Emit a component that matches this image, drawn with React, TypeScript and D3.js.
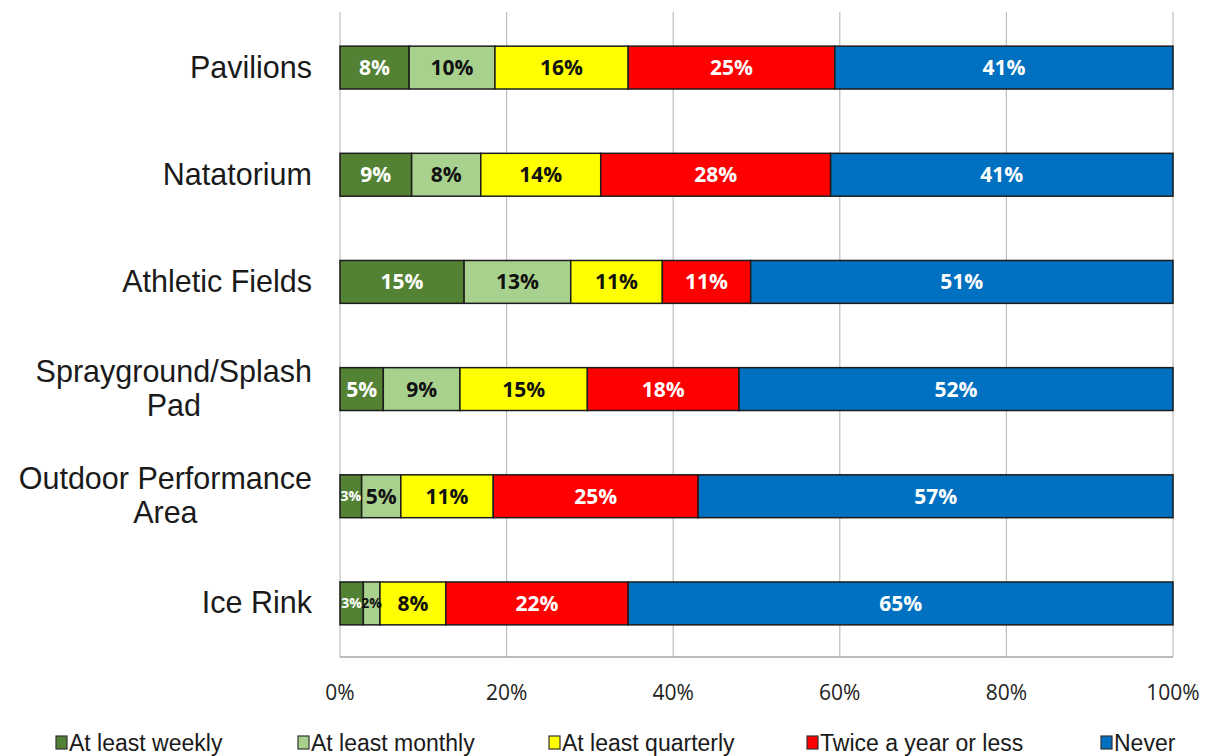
import React, { useEffect, useRef } from 'react';
import * as d3 from 'd3';

// categories, top to bottom
const categories = ['Pavilions', 'Natatorium', 'Athletic Fields', 'Sprayground/Splash Pad', 'Outdoor Performance Area', 'Ice Rink'];
const categoryLines = [['Pavilions'], ['Natatorium'], ['Athletic Fields'], ['Sprayground/Splash', 'Pad'], ['Outdoor Performance', 'Area'], ['Ice Rink']];

const seriesNames = ['At least weekly', 'At least monthly', 'At least quarterly', 'Twice a year or less', 'Never'];
const weekly = [8.3, 8.6, 14.9, 5.2, 2.6, 2.8];
const monthly = [10.3, 8.3, 12.8, 9.2, 4.7, 2.0];
const quarterly = [16.0, 14.4, 11.0, 15.3, 11.1, 7.9];
const twice = [24.8, 27.6, 10.6, 18.2, 24.6, 21.9];
const never = [40.6, 41.1, 50.7, 52.1, 57.0, 65.4];

const xTicks = [0, 20, 40, 60, 80, 100];

const colors = ['#548235', '#a9d18e', '#ffff00', '#ff0000', '#0070c0'];
const labelColors = ['#ffffff', '#111111', '#111111', '#ffffff', '#ffffff'];

export default function App() {
    const svgRef = useRef<SVGSVGElement>(null);

    useEffect(() => {
        if (!svgRef.current) return;
        const svg = d3.select(svgRef.current);
        svg.selectAll('*').remove();

        const plot = { left: 340, right: 1173, top: 14, bottom: 657 };

        const rows = categories.map((c, i) => ({
            category: c,
            s0: weekly[i], s1: monthly[i], s2: quarterly[i], s3: twice[i], s4: never[i]
        }));
        const keys = ['s0', 's1', 's2', 's3', 's4'];
        const stacked = d3.stack<any>().keys(keys)(rows);

        const x = d3.scaleLinear().domain([0, 100]).range([plot.left, plot.right]);
        const y = d3.scaleBand<string>()
            .domain(categories)
            .range([plot.top, plot.bottom])
            .paddingInner(0.6)
            .paddingOuter(0.3);

        // gridlines
        svg.append('g')
            .selectAll('line')
            .data(xTicks)
            .join('line')
            .attr('x1', d => x(d)).attr('x2', d => x(d))
            .attr('y1', plot.top - 2).attr('y2', plot.bottom)
            .attr('stroke', '#bdbdbd')
            .attr('stroke-width', 1.2);

        // axis line
        svg.append('line')
            .attr('x1', plot.left).attr('x2', plot.right)
            .attr('y1', plot.bottom).attr('y2', plot.bottom)
            .attr('stroke', '#a6a6a6')
            .attr('stroke-width', 1.5);

        // tick labels
        svg.append('g')
            .attr('font-family', '"Open Sans", sans-serif')
            .attr('font-size', 21)
            .attr('fill', '#222')
            .attr('text-anchor', 'middle')
            .selectAll('text')
            .data(xTicks)
            .join('text')
            .attr('x', d => x(d))
            .attr('y', 700)
            .text(d => `${d}%`);

        // bars
        const layers = svg.append('g')
            .selectAll('g')
            .data(stacked)
            .join('g')
            .attr('fill', (d, i) => colors[i]);

        layers.selectAll('rect')
            .data(d => d)
            .join('rect')
            .attr('x', d => x(d[0]))
            .attr('width', d => x(d[1]) - x(d[0]))
            .attr('y', d => y(d.data.category)!)
            .attr('height', y.bandwidth())
            .attr('stroke', '#1c1c1c')
            .attr('stroke-width', 1.5);

        // value labels (narrow segments get a smaller font, as in the original)
        stacked.forEach((layer, i) => {
            svg.append('g')
                .attr('font-family', '"Open Sans", sans-serif')
                .attr('font-weight', 700)
                .attr('fill', labelColors[i])
                .attr('text-anchor', 'middle')
                .selectAll('text')
                .data(layer)
                .join('text')
                .attr('font-size', d => (d[1] - d[0] < 3.5 ? 14 : 21))
                .attr('x', d => (x(d[0]) + x(d[1])) / 2)
                .attr('y', d => y(d.data.category)! + y.bandwidth() / 2)
                .attr('dy', '0.36em')
                .text(d => `${Math.round(d[1] - d[0])}%`);
        });

        // category labels
        const labelRight = 312;
        categories.forEach((c, i) => {
            const lines = categoryLines[i];
            const cy = y(c)! + y.bandwidth() / 2;
            const g = svg.append('g')
                .attr('font-family', '"Liberation Sans", Arial, sans-serif')
                .attr('font-size', 30.5)
                .attr('fill', '#1a1a1a');
            const texts = lines.map((line, j) =>
                g.append('text')
                    .attr('y', cy + 10 + (j - (lines.length - 1) / 2) * 34)
                    .text(line)
            );
            const widths = texts.map(t => (t.node() as SVGTextElement).getComputedTextLength());
            const maxW = d3.max(widths) ?? 0;
            const center = labelRight - maxW / 2;
            texts.forEach(t => t.attr('x', center).attr('text-anchor', 'middle'));
        });

        // legend
        const legendX = [56, 298, 549, 807, 1101];
        const legend = svg.append('g')
            .attr('font-family', '"Liberation Sans", Arial, sans-serif')
            .attr('font-size', 23)
            .attr('fill', '#1a1a1a')
            .selectAll('g')
            .data(seriesNames)
            .join('g')
            .attr('transform', (d, i) => `translate(${legendX[i]},743)`);

        legend.append('rect')
            .attr('x', 0)
            .attr('y', -7)
            .attr('width', 11)
            .attr('height', 13)
            .attr('fill', (d, i) => colors[i])
            .attr('stroke', '#333')
            .attr('stroke-width', 1.2);

        legend.append('text')
            .attr('x', 13)
            .attr('y', 0)
            .attr('dy', '0.36em')
            .text(d => d);
    }, []);

    return (
        <div style={{ position: 'absolute', left: 0, top: 0, background: '#fff' }}>
            <svg ref={svgRef} width={1211} height={756} viewBox="0 0 1211 756" style={{ display: 'block' }} />
        </div>
    );
}
